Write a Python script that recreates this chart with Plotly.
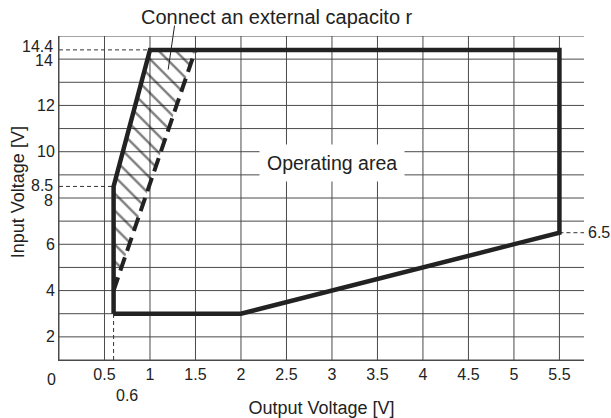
import plotly.graph_objects as go

# ---- data ----
x_ticks = [0.5, 1, 1.5, 2, 2.5, 3, 3.5, 4, 4.5, 5, 5.5]
x_ticktext = ["0.5", "1", "1.5", "2", "2.5", "3", "3.5", "4", "4.5", "5", "5.5"]
y_ticks = [2, 4, 6, 10, 12]
y_ticktext = ["2", "4", "6", "10", "12"]
# labels that sit close together (value, text, vertical nudge in px)
y_close_vals = [8, 8.5, 14, 14.4]
y_close_text = ["8", "8.5", "14", "14.4"]
y_close_nudge = [-2, 1, -1, 3]
x_grid = [0, 0.5, 1, 1.5, 2, 2.5, 3, 3.5, 4, 4.5, 5, 5.5]
y_grid = list(range(1, 16))

# operating area boundary (Output V, Input V)
area_x = [0.6, 0.6, 1.0, 5.5, 5.5, 2.0, 0.6]
area_y = [3, 8.5, 14.4, 14.4, 6.5, 3, 3]
# external capacitor boundary (dashed)
cap_x = [0.6, 1.5]
cap_y = [4.0, 14.4]
# hatched region
hatch_x = [0.6, 0.6, 1.0, 1.5, 0.6]
hatch_y = [4.0, 8.5, 14.4, 14.4, 4.0]

X_RANGE = [0, 5.77]
Y_RANGE = [1, 15]

INK = "#222222"
GRID = "#4a4a4a"
FONT = "Liberation Sans, Arial, sans-serif"


def px(v):
    return (v - X_RANGE[0]) / (X_RANGE[1] - X_RANGE[0])


def py(v):
    return (v - Y_RANGE[0]) / (Y_RANGE[1] - Y_RANGE[0])


fig = go.Figure()

# grid as shapes
for gx in x_grid:
    fig.add_shape(type="line", xref="x", yref="y", x0=gx, x1=gx, y0=Y_RANGE[0], y1=Y_RANGE[1],
                  line=dict(color=GRID, width=1), layer="below")
for gy in y_grid:
    fig.add_shape(type="line", xref="x", yref="y", x0=X_RANGE[0], x1=X_RANGE[1], y0=gy, y1=gy,
                  line=dict(color=GRID, width=1), layer="below")

# hatched area
fig.add_trace(go.Scatter(x=hatch_x, y=hatch_y, mode="lines", fill="toself",
                         fillcolor="rgba(0,0,0,0)",
                         fillpattern=dict(shape="\\", fgcolor="#000000", bgcolor="rgba(0,0,0,0)",
                                          size=12, solidity=0.2),
                         line=dict(width=0, color="rgba(0,0,0,0)"), hoverinfo="skip",
                         showlegend=False))

# thin dashed helper lines
thin = dict(color="#333333", width=1, dash="4px,3px")
fig.add_trace(go.Scatter(x=[X_RANGE[0], area_x[2]], y=[area_y[2], area_y[2]], mode="lines",
                         line=thin, showlegend=False))
fig.add_trace(go.Scatter(x=[X_RANGE[0], area_x[1]], y=[area_y[1], area_y[1]], mode="lines",
                         line=thin, showlegend=False))
fig.add_trace(go.Scatter(x=[area_x[0], area_x[0]], y=[Y_RANGE[0], area_y[0]], mode="lines",
                         line=thin, showlegend=False))
fig.add_trace(go.Scatter(x=[area_x[4], X_RANGE[1]], y=[area_y[4], area_y[4]], mode="lines",
                         line=thin, showlegend=False))

# dashed capacitor boundary
fig.add_trace(go.Scatter(x=cap_x, y=cap_y, mode="lines",
                         line=dict(color=INK, width=4, dash="14px,7px"), showlegend=False))
# operating area boundary
fig.add_trace(go.Scatter(x=area_x, y=area_y, mode="lines",
                         line=dict(color=INK, width=4.5), showlegend=False))

# leader line for the callout
fig.add_shape(type="line", xref="paper", yref="paper",
              x0=px(1.27), y0=py(15.45), x1=px(1.20), y1=py(13.55),
              line=dict(color=INK, width=1))

fig.add_annotation(x=px(2.4), y=py(15.8), xref="paper", yref="paper",
                   text="Connect an external capacito r", yanchor="middle",
                   showarrow=False, font=dict(size=20, color=INK, family=FONT))
fig.add_annotation(x=3.0, y=9.52, xref="x", yref="y", text="Operating area",
                   showarrow=False, bgcolor="white", borderpad=7,
                   font=dict(size=19.5, color=INK, family=FONT))
fig.add_annotation(x=1.0, y=area_y[4], xref="paper", yref="y", text="6.5",
                   xanchor="left", xshift=2, showarrow=False,
                   font=dict(size=16, color=INK, family=FONT))
fig.add_annotation(x=px(area_x[0]), y=0, xref="paper", yref="paper", text="0.6",
                   yanchor="top", yshift=-25, showarrow=False,
                   font=dict(size=16, color=INK, family=FONT))
fig.add_annotation(x=px(-0.15), y=0, xref="paper", yref="paper", text="0",
                   yanchor="top", yshift=-9, showarrow=False,
                   font=dict(size=16, color=INK, family=FONT))
for v, t, n in zip(y_close_vals, y_close_text, y_close_nudge):
    fig.add_annotation(x=0, y=py(v), xref="paper", yref="paper", text=t,
                       xanchor="right", yanchor="middle", xshift=-4, yshift=n,
                       showarrow=False, font=dict(size=16, color=INK, family=FONT))
# y axis title
fig.add_annotation(x=0, y=py(8.25), xref="paper", yref="paper", text="Input Voltage [V]",
                   textangle=-90, xanchor="center", yanchor="middle", xshift=-41,
                   showarrow=False, font=dict(size=18, color=INK, family=FONT))

fig.update_layout(
    width=611, height=418,
    margin=dict(l=59, r=27, t=36, b=58, autoexpand=False),
    paper_bgcolor="white", plot_bgcolor="white",
    font=dict(family=FONT, color=INK, size=16),
    xaxis=dict(range=X_RANGE, tickvals=x_ticks, ticktext=x_ticktext, showgrid=False,
               zeroline=False, showline=True, linecolor=GRID, linewidth=1, ticks="",
               tickfont=dict(size=16), automargin=False,
               title=dict(text="Output Voltage [V]", font=dict(size=18), standoff=22)),
    yaxis=dict(range=Y_RANGE, tickvals=y_ticks, ticktext=y_ticktext, showgrid=False,
               zeroline=False, showline=True, linecolor=GRID, linewidth=1, ticks="",
               tickfont=dict(size=16), automargin=False),
)

fig.write_html("out.html", post_script="document.body.style.margin='0px';",
               config={"displayModeBar": False})
